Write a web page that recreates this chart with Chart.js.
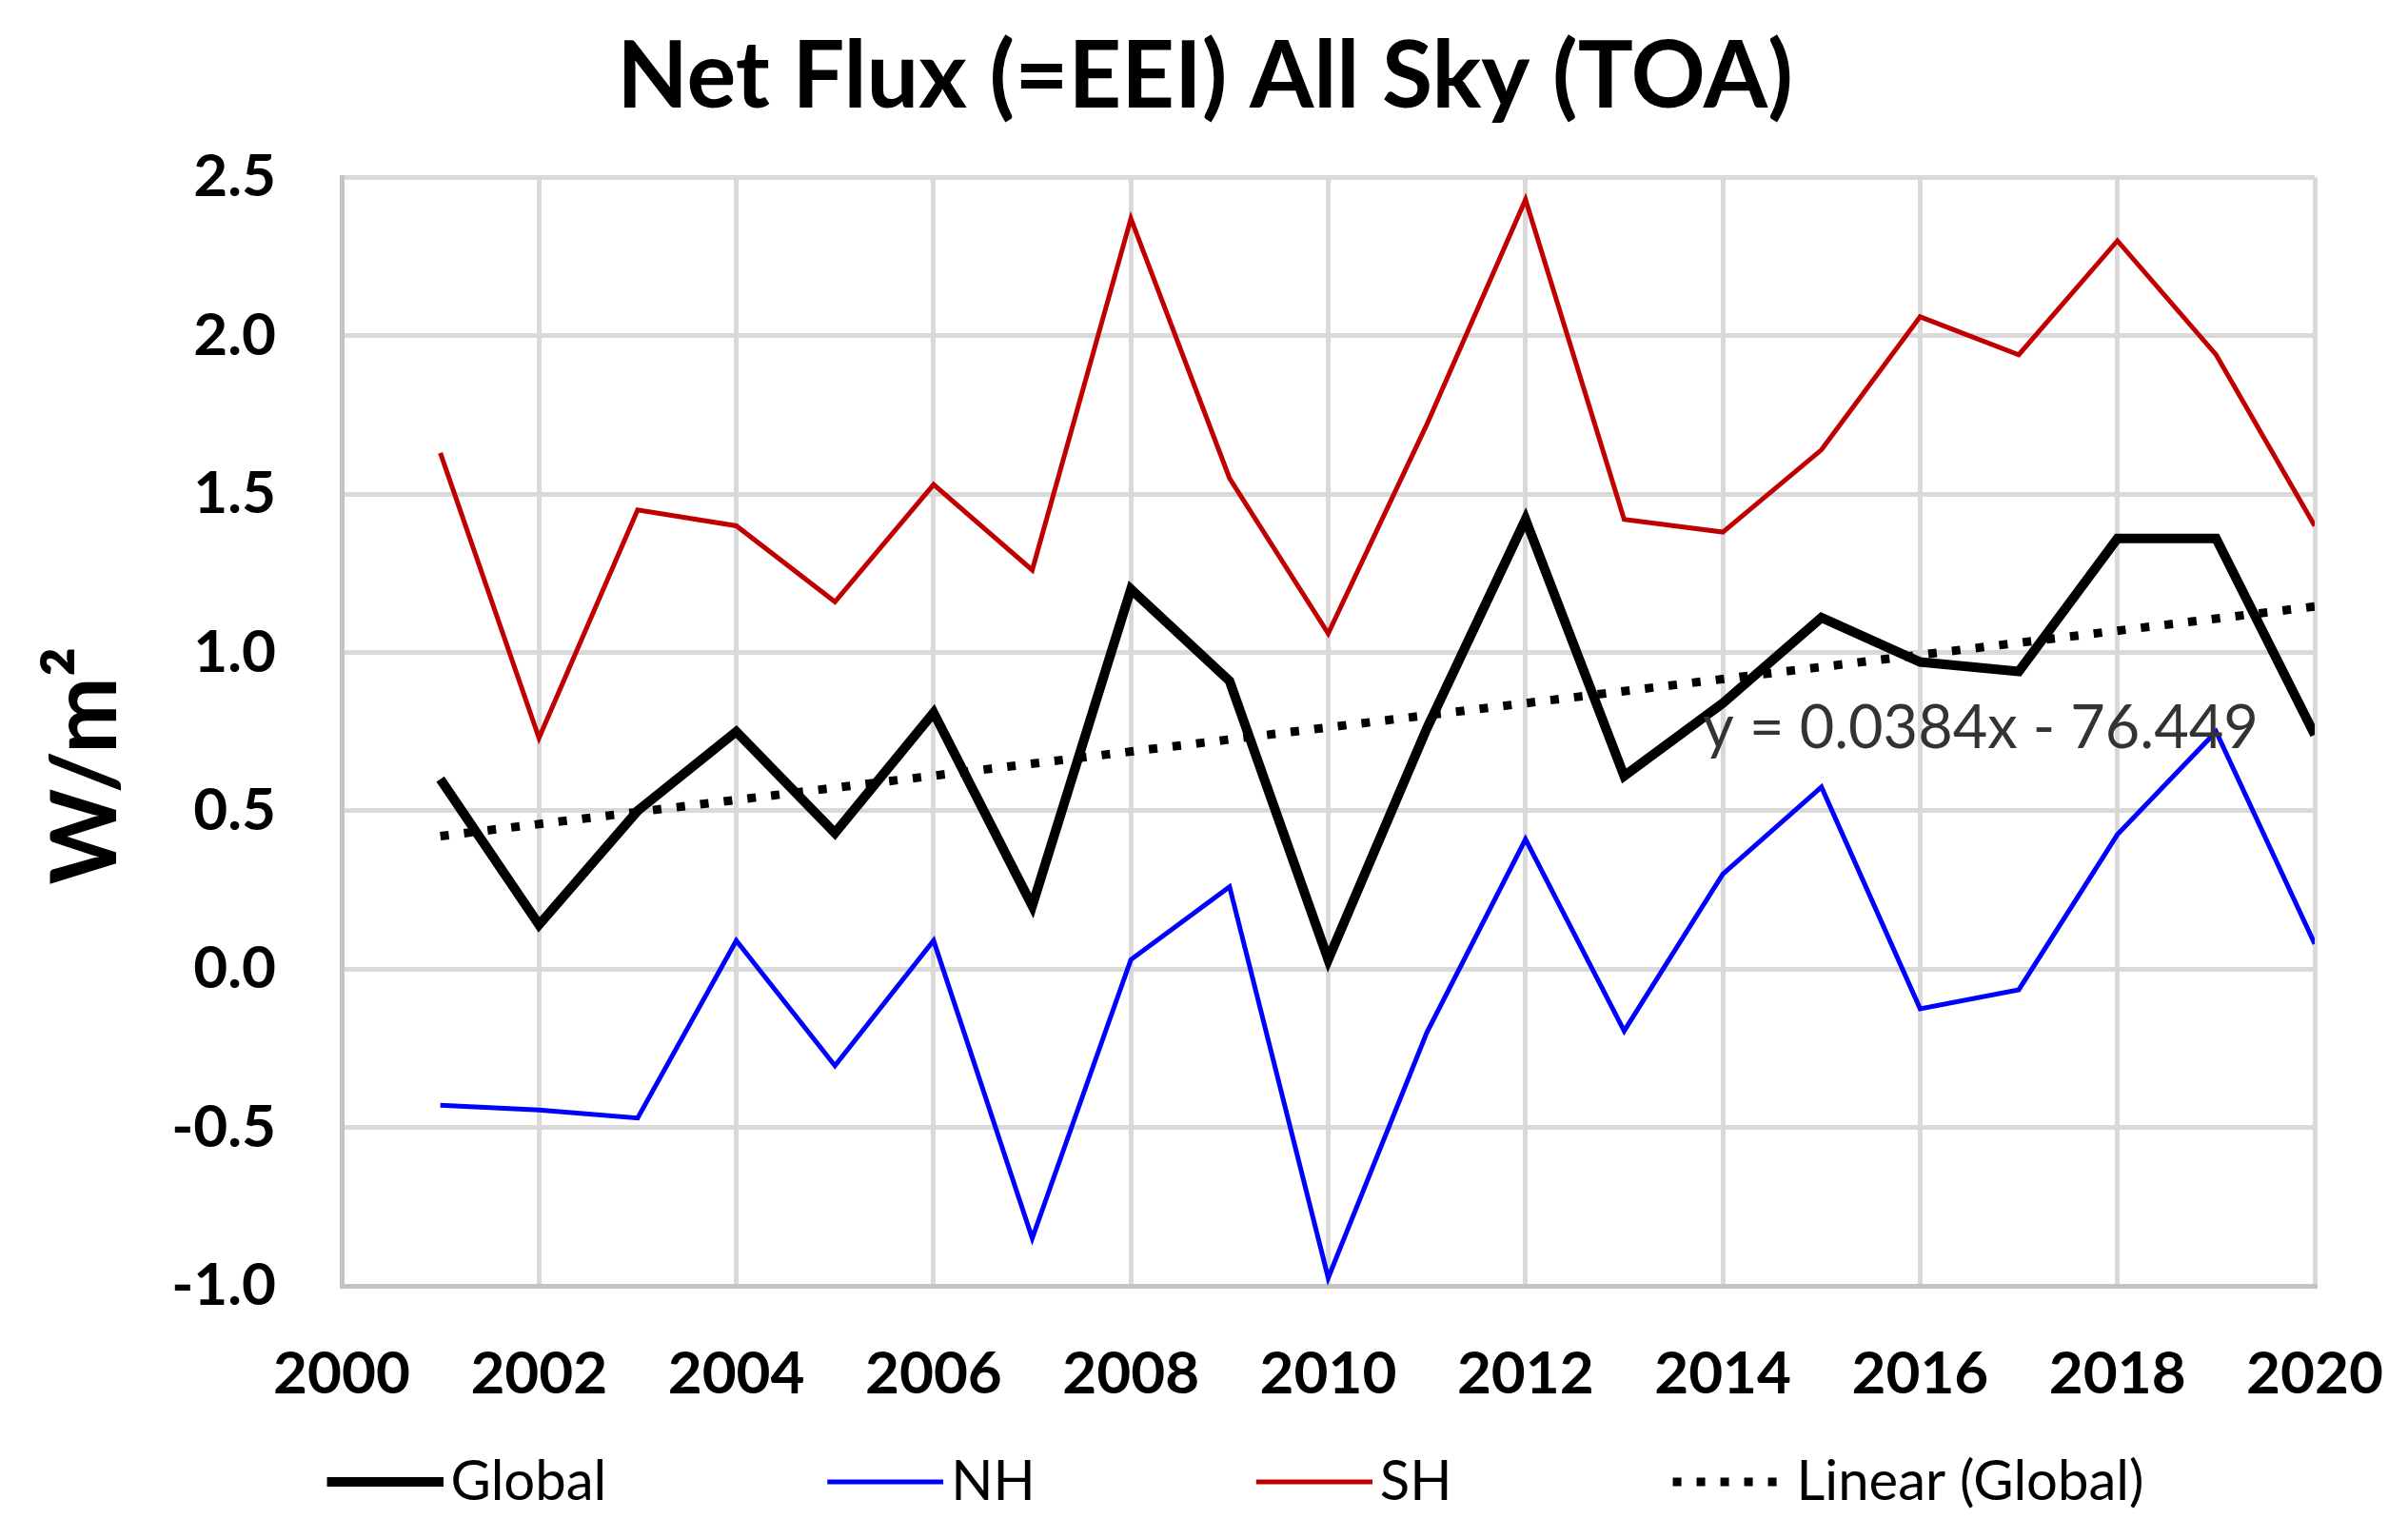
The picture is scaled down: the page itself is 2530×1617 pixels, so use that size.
<!DOCTYPE html>
<html>
<head>
<meta charset="utf-8">
<script src="https://cdn.jsdelivr.net/npm/chart.js@4.4.1/dist/chart.umd.min.js"></script>
<style>
  html, body { margin: 0; padding: 0; background: #fff; }
  #wrap { width: 2530px; height: 1617px; position: relative; }
</style>
</head>
<body>
<div id="wrap"><canvas id="eei"></canvas></div>
<script>
// values (W/m2)
var years = [2001, 2002, 2003, 2004, 2005, 2006, 2007, 2008, 2009, 2010,
             2011, 2012, 2013, 2014, 2015, 2016, 2017, 2018, 2019, 2020];
var globalFlux = [0.60, 0.14, 0.50, 0.75, 0.43, 0.81, 0.20, 1.20, 0.91, 0.03,
                  0.76, 1.42, 0.61, 0.84, 1.11, 0.97, 0.94, 1.36, 1.36, 0.74];
var nhFlux = [-0.43, -0.445, -0.47, 0.09, -0.305, 0.09, -0.85, 0.03, 0.26, -0.975,
              -0.20, 0.41, -0.195, 0.30, 0.575, -0.125, -0.065, 0.425, 0.75, 0.08];
var shFlux = [1.63, 0.73, 1.45, 1.40, 1.16, 1.53, 1.26, 2.37, 1.55, 1.06,
              1.72, 2.43, 1.42, 1.38, 1.64, 2.06, 1.94, 2.30, 1.94, 1.40];
var trendYears = [2001, 2020];
var trendFlux = [0.42, 1.145];
var trendLabel = 'y = 0.0384x - 76.449';

var xMin = 2000, xMax = 2020, xStep = 2;
var yMin = -1.0, yMax = 2.5, yStep = 0.5;

function toPoints(xs, ys) {
    var pts = [];
    for (let i = 0; i < xs.length; i++) {
        pts.push({ x: xs[i], y: ys[i] });
    }
    return pts;
}

Chart.defaults.font.family = 'Lato';
Chart.defaults.color = '#000';

var gridColor = '#d9d9d9';
var borderColor = '#c4c4c4';

// legend swatch: a 122px line whose left end sits at the item start
function swatch(color, width, dash) {
    var c = document.createElement('canvas');
    c.width = 143;
    c.height = 24;
    var g = c.getContext('2d');
    g.strokeStyle = color;
    g.lineWidth = width;
    g.setLineDash(dash || []);
    g.beginPath();
    g.moveTo(21, 12);
    g.lineTo(143, 12);
    g.stroke();
    return c;
}

// Excel-like placement: title centred on the page, legend low with wide gaps
var blockPlace = {
    id: 'blockPlace',
    afterLayout: function(chart) {
        var tb = chart.titleBlock;
        tb.left += 40;
        tb.right += 40;

        var lg = chart.legend;
        lg.left += 72;
        lg.right += 72;
        lg.top = 1557 - 29 - 232;
        lg.bottom = chart.height;
    }
};

var trendText = {
    id: 'trendText',
    afterDatasetsDraw: function(chart) {
        var ctx = chart.ctx;
        var xs = chart.scales.x, ys = chart.scales.y;
        ctx.save();
        ctx.font = '63px Lato';
        ctx.fillStyle = '#333';
        ctx.textAlign = 'left';
        ctx.textBaseline = 'middle';
        ctx.fillText(trendLabel, xs.getPixelForValue(2013.8), ys.getPixelForValue(0.76));
        ctx.restore();
    }
};

var chartdata = {
    datasets: [
        {
            label: 'Global',
            data: toPoints(years, globalFlux),
            borderColor: '#000',
            backgroundColor: '#000',
            borderWidth: 10,
            order: 1
        },
        {
            label: 'NH',
            data: toPoints(years, nhFlux),
            borderColor: '#0000ff',
            backgroundColor: '#0000ff',
            borderWidth: 5,
            order: 2
        },
        {
            label: 'SH',
            data: toPoints(years, shFlux),
            borderColor: '#c00000',
            backgroundColor: '#c00000',
            borderWidth: 5,
            order: 3
        },
        {
            label: 'Linear (Global)',
            data: toPoints(trendYears, trendFlux),
            borderColor: '#000',
            backgroundColor: '#000',
            borderWidth: 9,
            borderDash: [9, 16],
            borderCapStyle: 'butt',
            order: 0
        }
    ]
};

var graphTarget = document.getElementById('eei');
var lineGraph = new Chart(graphTarget, {
    type: 'line',
    data: chartdata,
    plugins: [blockPlace, trendText],
    options: {
        responsive: true,
        maintainAspectRatio: false,
        animation: false,
        devicePixelRatio: 1,
        layout: { padding: { left: 20, right: 98, top: 0, bottom: 0 } },
        elements: {
            point: { radius: 0, hoverRadius: 0 },
            line: { tension: 0, borderJoinStyle: 'miter' }
        },
        scales: {
            x: {
                type: 'linear',
                min: xMin,
                max: xMax,
                afterFit: function(scale) {
                    scale.height = 130;
                    scale.paddingLeft = 0;
                    scale.paddingRight = 0;
                },
                ticks: {
                    stepSize: xStep,
                    padding: 56,
                    maxRotation: 0,
                    font: { size: 62, weight: 'bold' },
                    color: '#000',
                    callback: function(v) { return String(v); }
                },
                grid: { color: gridColor, lineWidth: 5, drawTicks: false },
                border: { color: borderColor, width: 5 }
            },
            y: {
                min: yMin,
                max: yMax,
                afterFit: function(scale) { scale.width = 339; },
                ticks: {
                    stepSize: yStep,
                    padding: 69,
                    font: { size: 62, weight: 'bold' },
                    color: '#000',
                    callback: function(v) { return v.toFixed(1); }
                },
                grid: { color: gridColor, lineWidth: 5, drawTicks: false },
                border: { color: borderColor, width: 5 },
                title: {
                    display: true,
                    text: 'W/m²\u2002 ',
                    color: '#000',
                    font: { size: 96, weight: 'bold' },
                    padding: { top: 13, bottom: 0 }
                }
            }
        },
        plugins: {
            title: {
                display: true,
                text: 'Net Flux (=EEI) All Sky (TOA)',
                color: '#000',
                font: { size: 97, weight: 'bold' },
                padding: { top: 24, bottom: 46 }
            },
            legend: {
                position: 'bottom',
                maxHeight: 136,
                labels: {
                    usePointStyle: true,
                    pointStyleWidth: 101,
                    boxHeight: 24,
                    padding: 232,
                    color: '#000',
                    font: { size: 58 },
                    sort: function(a, b) { return a.datasetIndex - b.datasetIndex; },
                    generateLabels: function(chart) {
                        var items = Chart.defaults.plugins.legend.labels.generateLabels(chart);
                        items.forEach(function(it) {
                            var ds = chart.data.datasets[it.datasetIndex];
                            it.pointStyle = swatch(ds.borderColor, ds.borderWidth, ds.borderDash);
                        });
                        return items;
                    }
                }
            },
            tooltip: { enabled: false }
        }
    }
});
</script>
</body>
</html>
